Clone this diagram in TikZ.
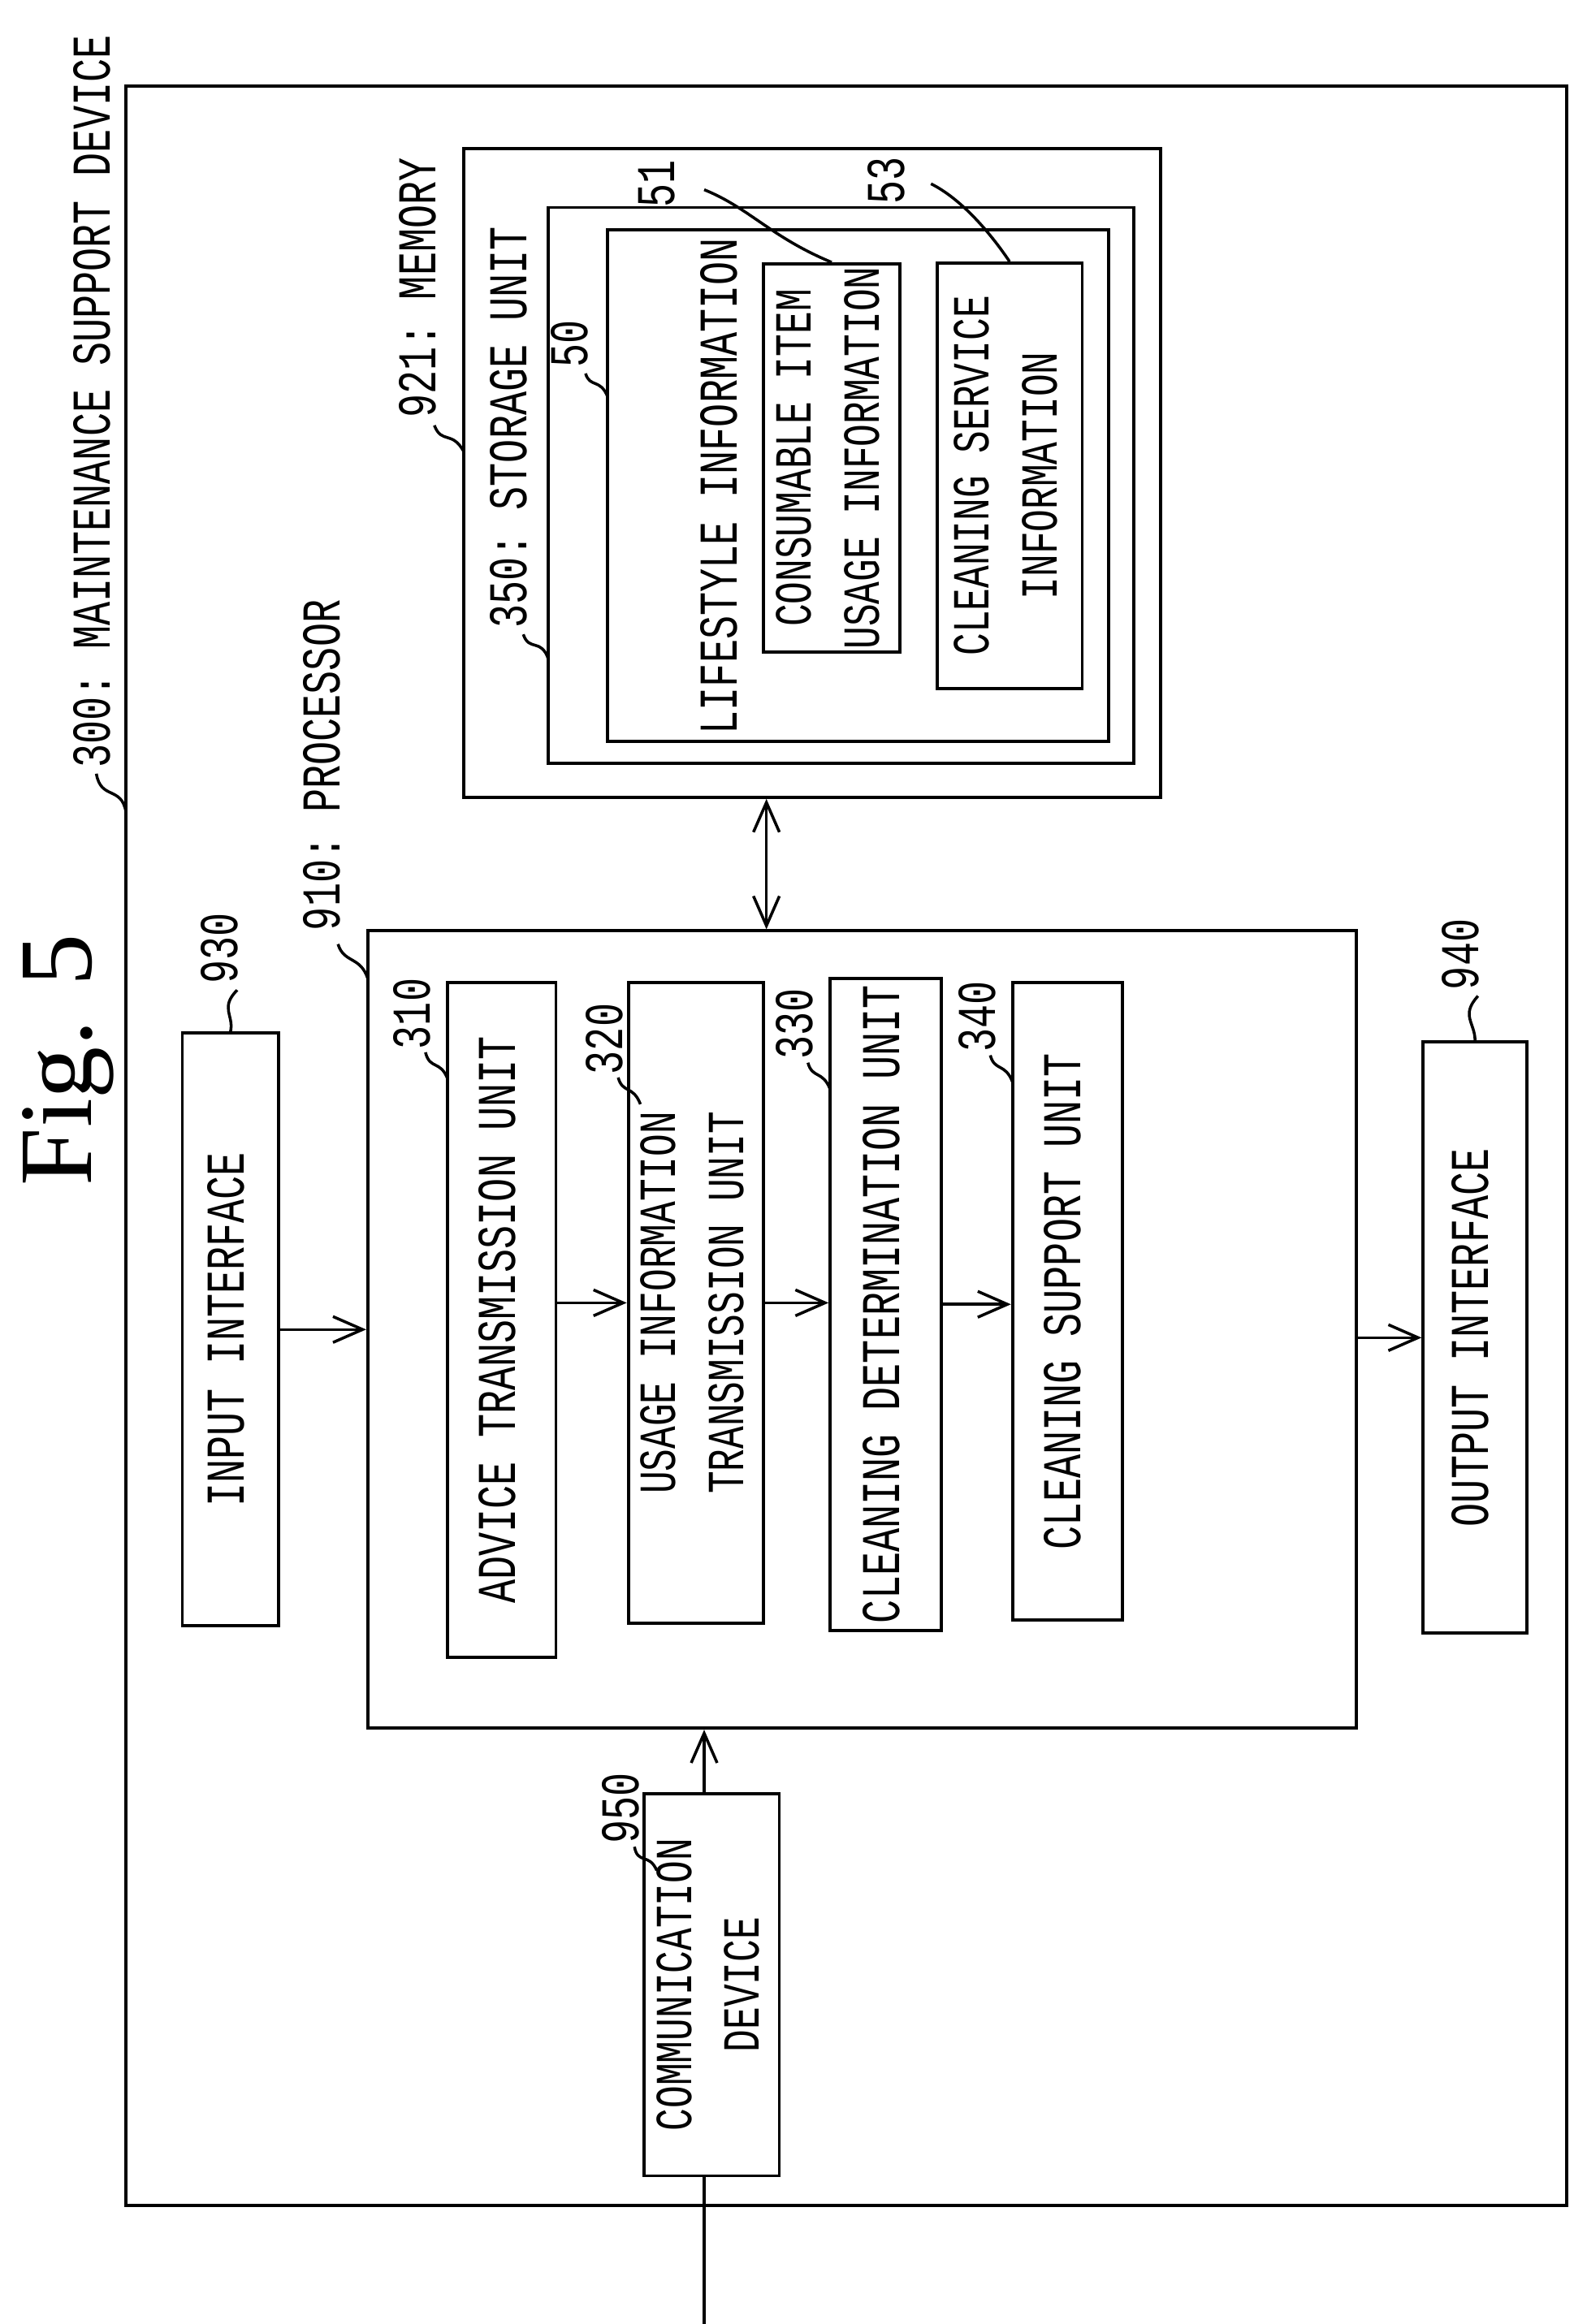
\documentclass[tikz,border=0pt]{standalone}
\usepackage{fontspec}
\usepackage{graphicx}
\setmonofont[FakeStretch=0.72]{Liberation Mono}
\newfontfamily\figfont{Liberation Serif}
\usetikzlibrary{arrows.meta}
\newcommand\rl[1]{\rotatebox{90}{\begin{tabular}{@{}c@{}}#1\end{tabular}}}
\tikzset{
  box/.style={draw, line width=1.2pt, inner sep=0pt, font=\ttfamily\fontsize{21}{26}\selectfont},
  twoline/.style={font=\ttfamily\fontsize{20}{26}\selectfont},
  frame/.style={draw, line width=1.2pt},
  arr/.style={line width=1.1pt, -{Straight Barb[length=4mm,width=3.5mm]}},
  lead/.style={line width=1.1pt},
  num/.style={rotate=90, anchor=west, inner sep=1pt, font=\ttfamily\fontsize{21}{24}\selectfont}
}
\begin{document}
\begin{tikzpicture}[x=0.02cm, y=-0.02cm]
\useasboundingbox (0,0) rectangle (1070,1568);
% title
\node[rotate=90, font=\figfont\fontsize{40}{44}\selectfont] (fig) at (46,715) {Fig. 5};
% outer device
\draw[frame] (85,58) rectangle (1057,1488);
\draw[lead] (85,548) .. controls (82,530) and (68,540) .. (65,522);
\node[num] (l300) at (62,520) {300: MAINTENANCE SUPPORT DEVICE};
% memory
\node[box, minimum width=9.4cm, minimum height=8.76cm] (mem) at (548,319) {};
\draw[lead] (313,305) .. controls (305,290) and (298,300) .. (293,287);
\node[num] (l921) at (282,284) {921: MEMORY};
\draw[frame] (370,140) rectangle (765,515);
\draw[lead] (370,445) .. controls (365,430) and (357,440) .. (353,428);
\node[num] (l350) at (343,426) {350: STORAGE UNIT};
\draw[frame] (410,155) rectangle (748,500);
\draw[lead] (410,268) .. controls (405,255) and (398,262) .. (395,252);
\node[num] (l50) at (384,250) {50};
\node[rotate=90, font=\ttfamily\fontsize{21}{26}\selectfont] (life) at (485,328) {LIFESTYLE INFORMATION};
\node[box, twoline, minimum width=1.84cm, minimum height=5.24cm] (cons) at (561,309) {\rl{CONSUMABLE ITEM\\USAGE INFORMATION}};
\node[box, twoline, minimum width=1.96cm, minimum height=5.74cm] (clsv) at (681,321) {\rl{CLEANING SERVICE\\INFORMATION}};
\node[num] (l51) at (443,142) {51};
\draw[lead] (cons.north) .. controls (520,160) and (505,140) .. (475,128);
\node[num] (l53) at (598,140) {53};
\draw[lead] (clsv.north) .. controls (670,160) and (650,135) .. (628,124);
% processor
\node[box, minimum width=13.34cm, minimum height=10.76cm] (proc) at (581.5,897) {};
\draw[lead] (248,660) .. controls (243,645) and (232,650) .. (228,637);
\node[num] (l910) at (217,630) {910: PROCESSOR};
\node[box, minimum width=1.46cm, minimum height=9.1cm] (adv) at (338.5,890.5) {\rl{ADVICE TRANSMISSION UNIT}};
\node[box, twoline, minimum width=1.5cm, minimum height=8.64cm] (use) at (469.5,879) {\rl{USAGE INFORMATION\\TRANSMISSION UNIT}};
\node[box, minimum width=1.5cm, minimum height=8.8cm] (cdet) at (597.5,880) {\rl{CLEANING DETERMINATION UNIT}};
\node[box, minimum width=1.48cm, minimum height=8.6cm] (csup) at (720,878) {\rl{CLEANING SUPPORT UNIT}};
\draw[lead] (302,728) .. controls (297,715) and (290,722) .. (287,710);
\node[num] (l310) at (278,710) {310};
\draw[lead] (432,745) .. controls (427,732) and (420,738) .. (417,727);
\node[num] (l320) at (408,727) {320};
\draw[lead] (560,735) .. controls (555,722) and (548,728) .. (545,717);
\node[num] (l330) at (536,717) {330};
\draw[lead] (683,730) .. controls (678,717) and (671,723) .. (668,712);
\node[num] (l340) at (659,712) {340};
% interfaces
\node[box, minimum width=1.3cm, minimum height=8cm] (inp) at (155.5,897) {\rl{INPUT INTERFACE}};
\draw[lead] (inp.north) .. controls (158,685) and (148,680) .. (160,668);
\node[num] (l930) at (148,666) {930};
\node[box, minimum width=1.4cm, minimum height=7.98cm] (outp) at (995,902.5) {\rl{OUTPUT INTERFACE}};
\draw[lead] (outp.north) .. controls (995,690) and (985,685) .. (997,672);
\node[num] (l940) at (985,670) {940};
\node[box, twoline, minimum width=1.48cm, minimum height=5.16cm] (comm) at (480,1339) {\rl{COMMUNICATION\\DEVICE}};
\draw[lead] (443,1262) .. controls (438,1250) and (430,1258) .. (428,1246);
\node[num] (l950) at (419,1246) {950};
% connectors
\coordinate (mp) at (517,0);
\coordinate (ext) at (475,1568);
\draw[line width=1.1pt, {Straight Barb[length=4mm,width=3.5mm]}-{Straight Barb[length=4mm,width=3.5mm]}] (mem.south -| mp) -- (proc.north -| mp);
\draw[arr] (inp) -- (inp -| proc.west);
\draw[arr] (adv.east |- use) -- (use);
\draw[arr] (use) -- (use -| cdet.west);
\draw[arr] (cdet) -- (cdet -| csup.west);
\draw[arr] (proc.east |- outp) -- (outp);
\draw[arr] (comm.north -| ext) -- (proc.south -| ext);
\draw[line width=1.1pt] (ext) -- (comm.south -| ext);
\end{tikzpicture}
\end{document}
